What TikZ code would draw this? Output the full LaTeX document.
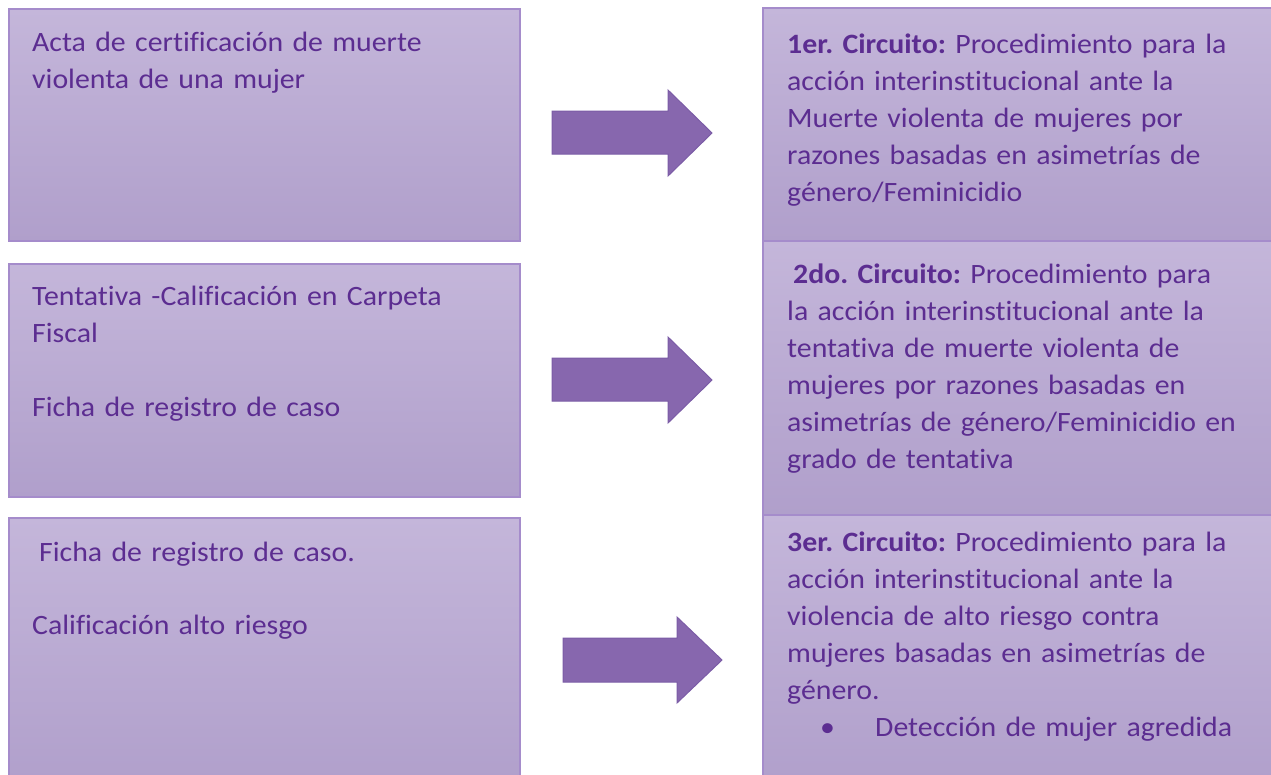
\documentclass[tikz,border=0pt]{standalone}
\usepackage{fontspec}
\setmainfont{Carlito}[Ligatures=NoCommon, FakeStretch=1.065]
\definecolor{txtc}{HTML}{5C2D91}
\definecolor{boxtop}{HTML}{C4B6DA}
\definecolor{boxbot}{HTML}{B09FCB}
\definecolor{boxline}{HTML}{A58CCB}
\definecolor{arrfill}{HTML}{8767AE}
\definecolor{arrline}{HTML}{7B5CA6}
\tikzset{
  box/.style={draw=boxline, line width=1.5pt, top color=boxtop, bottom color=boxbot},
  txt/.style={anchor=base west, inner sep=0pt, text width=480pt, align=left,
    font=\fontsize{28}{37}\selectfont\frenchspacing, text=txtc},
  blockarrow/.style={fill=arrfill, draw=arrline, line width=1pt, line join=miter}
}
\begin{document}
\begin{tikzpicture}[x=1pt,y=-1pt]
\useasboundingbox (0,0) rectangle (1271,774);
\clip (0,0) rectangle (1271,774);
% left boxes
\path[box] (9,9) rectangle (520,241);
\path[box] (9,264) rectangle (520,497);
\path[box] (9,518) rectangle (520,790);
% right boxes
\path[box] (763,8) rectangle (1290,241);
\path[box] (763,241) rectangle (1290,515);
\path[box] (763,515) rectangle (1290,790);
% block arrows
\draw[blockarrow] (552,111) -- (668,111) -- (668,90) -- (712,133) -- (668,176) -- (668,154) -- (552,154) -- cycle;
\draw[blockarrow] (552,358) -- (668,358) -- (668,337) -- (712,380) -- (668,423) -- (668,401) -- (552,401) -- cycle;
\draw[blockarrow] (563,638) -- (677,638) -- (677,617) -- (722,660) -- (677,703) -- (677,682) -- (563,682) -- cycle;
% left texts
\node[txt] (t1) at (32,51) {Acta de certificación de muerte\\violenta de una mujer};
\node[txt] (t2) at (32,305) {Tentativa -Calificación en Carpeta\\Fiscal\\[37pt]Ficha de registro de caso};
\node[txt] (t3a) at (39,561) {Ficha de registro de caso.};
\node[txt] (t3b) at (32,634) {Calificación alto riesgo};
% right texts
\node[txt] (r1) at (787,53) {\textbf{1er. Circuito:} Procedimiento para la\\acción interinstitucional ante la\\Muerte violenta de mujeres por\\razones basadas en asimetrías de\\género/Feminicidio};
\node[txt] (r2) at (787,283) {\hspace*{6pt}\textbf{2do. Circuito:} Procedimiento para\\la acción interinstitucional ante la\\tentativa de muerte violenta de\\mujeres por razones basadas en\\asimetrías de género/Feminicidio en\\grado de tentativa};
\node[txt] (r3) at (787,551) {\textbf{3er. Circuito:} Procedimiento para la\\acción interinstitucional ante la\\violencia de alto riesgo contra\\mujeres basadas en asimetrías de\\género.\\\hspace*{33pt}\makebox[55pt][l]{•}Detección de mujer agredida};
\end{tikzpicture}
\end{document}
